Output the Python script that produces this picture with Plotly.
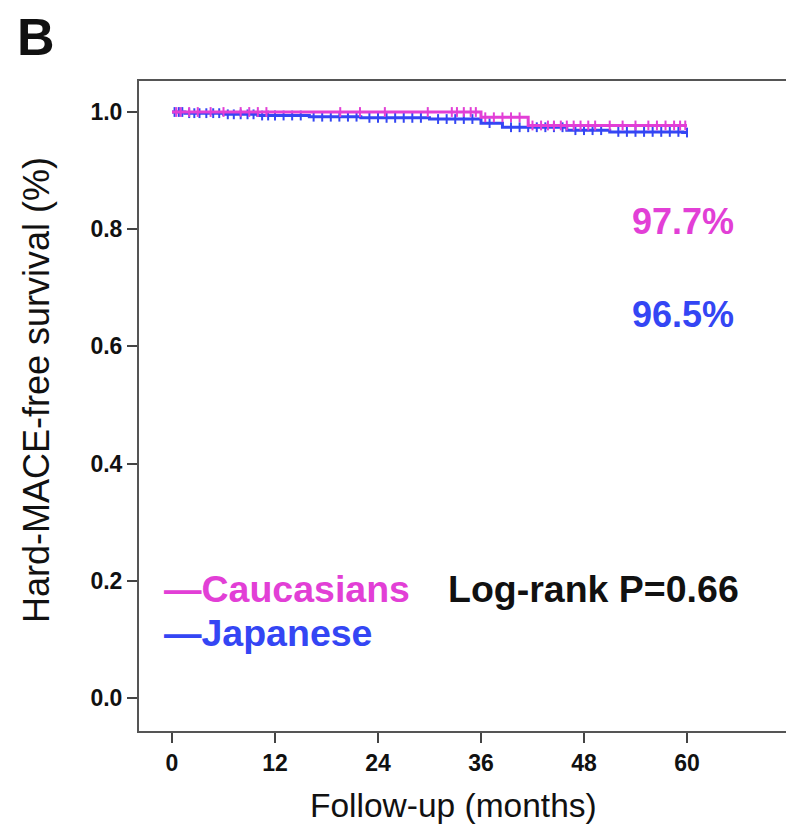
import plotly.graph_objects as go
import numpy as np

# Kaplan-Meier step data (months, survival)
cau_time = [0, 36, 41.5, 60]
cau_surv = [1.000, 0.991, 0.977, 0.977]
jap_time = [0, 1.5, 6, 10, 16, 22, 30, 36, 38.5, 46, 51, 59.5, 60]
jap_surv = [1.000, 0.998, 0.996, 0.994, 0.992, 0.990, 0.988, 0.981, 0.974, 0.969, 0.966, 0.965, 0.965]

# censoring marks (months)
cau_cens = [0.5, 1, 2, 3, 4.5, 6, 8, 9, 10, 11, 19.6, 21.9, 24.8, 29.8, 32.6, 33.2,
            34, 34.8, 35.4, 36.5, 37.5, 38.5, 39.5, 40.5, 42, 43, 43.8, 44.5, 45.3,
            46, 46.8, 47.6, 48.5, 49.3, 51, 52.5, 54, 55.5, 56.5, 57.5, 58.5, 59.2, 59.8]
jap_cens = [0.3, 0.8, 1.2, 2, 2.6, 3.2, 4, 4.8, 5.5, 6.5, 7.2, 8, 8.8, 9.5, 10.5, 11.2,
            12, 13, 14, 15, 16.5, 17.5, 18.5, 19.5, 20.5, 21.5, 23, 24, 25, 26, 27,
            28, 29, 31, 32, 33, 34, 35, 37, 39.5, 40.5, 41.5, 42.5, 43.5, 44.5, 45.5,
            47, 48, 49, 50, 52, 53, 54, 55, 56, 57, 58, 59, 60]

x_ticks = [0, 12, 24, 36, 48, 60]
y_ticks = [0.0, 0.2, 0.4, 0.6, 0.8, 1.0]
y_tick_text = ["0.0", "0.2", "0.4", "0.6", "0.8", "1.0"]

MAG = "#E23FD6"
BLU = "#3446F4"
FONT = "Liberation Sans, Arial, sans-serif"


def km_at(times, survs, t):
    idx = np.searchsorted(np.array(times), t, side="right") - 1
    return survs[max(idx, 0)]


fig = go.Figure()
for times, survs, cens, col, name in [
    (jap_time, jap_surv, jap_cens, BLU, "Japanese"),
    (cau_time, cau_surv, cau_cens, MAG, "Caucasians"),
]:
    fig.add_trace(go.Scatter(x=times, y=survs, mode="lines", line=dict(color=col, width=3, shape="hv"),
                             name=name, showlegend=False))
    fig.add_trace(go.Scatter(x=cens, y=[km_at(times, survs, t) for t in cens], mode="markers",
                             marker=dict(symbol="line-ns-open", size=7, color=col,
                                         line=dict(color=col, width=2)),
                             showlegend=False, hoverinfo="skip"))

AX = dict(showline=True, linecolor="#555", linewidth=2, mirror=True, ticks="outside", ticklen=10,
          tickwidth=2, tickcolor="#444", showgrid=False, zeroline=False, automargin=False,
          tickfont=dict(family=FONT, size=23, color="#111", weight="bold"))

fig.update_xaxes(range=[-3.845, 71.77], tickvals=x_ticks, **AX)
fig.update_yaxes(range=[-0.0563, 1.0529], tickvals=y_ticks, ticktext=y_tick_text, **AX)

ann = []
def A(text, x, y, size, color="#111", bold=True, xanchor="center", angle=0):
    ann.append(dict(text=text, x=x, y=y, xref="paper", yref="paper", showarrow=False, xanchor=xanchor,
                    yanchor="middle", textangle=angle,
                    font=dict(family=FONT, size=size, color=color, weight="bold" if bold else "normal")))

W0, H0 = 139, 81
PW, PH = 649, 650
def px(xp): return (xp - W0) / PW
def py(yp): return (H0 + PH - yp) / PH

A("B", px(15), py(37), 52, xanchor="left")
A("Hard-MACE-free survival (%)", px(36), py(390), 36, bold=False, angle=-90)
A("Follow-up (months)", px(453), py(805), 33.5, bold=False)
A("97.7%", px(683), py(221), 36, color=MAG)
A("96.5%", px(683), py(314), 36, color=BLU)
A("—Caucasians", px(162), py(589), 37.5, color=MAG, xanchor="left")
A("—Japanese", px(162), py(633), 37.5, color=BLU, xanchor="left")
A("Log-rank P=0.66", px(593), py(589), 37.5, color="#111")

fig.update_layout(width=794, height=836, margin=dict(l=131, r=14, t=73, b=113),
                  plot_bgcolor="white", paper_bgcolor="white", annotations=ann,
                  font=dict(family=FONT))
fig.write_html("out.html")
